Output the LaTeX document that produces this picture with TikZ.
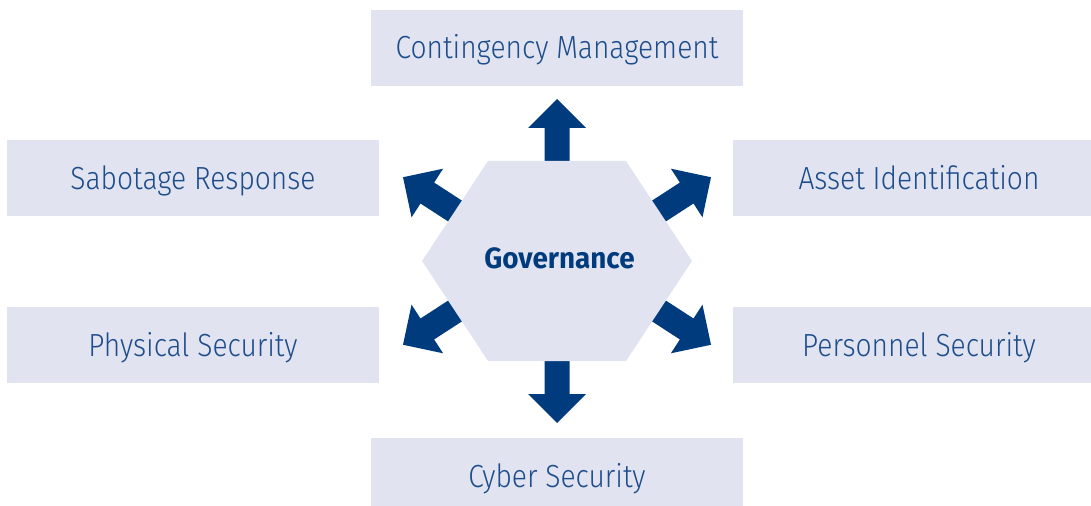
\documentclass[tikz,border=0pt]{standalone}
\usepackage{fontspec}
\newfontfamily\boxfont{Fira Sans Light}[FakeStretch=0.88]
\newfontfamily\govfont{Fira Sans}[FakeStretch=0.95]
\definecolor{arrowblue}{HTML}{003C7D}
\definecolor{textblue}{HTML}{1E4D8C}
\definecolor{boxfill}{HTML}{E1E4F0}
\tikzset{
  box/.style={fill=boxfill, draw=none, inner sep=0pt, minimum height=57pt,
    minimum width=279pt,
    font=\boxfont\fontsize{24}{28}\selectfont, text=textblue,
    text height=16.5pt, text depth=0pt},
  pics/blockarrow/.style={code={
    \fill[arrowblue] (-15,-12.5) -- (33,-12.5) -- (33,-29) -- (62,0) -- (33,29) -- (33,12.5) -- (-15,12.5) -- cycle;}}
}
\begin{document}
\begin{tikzpicture}[x=0.75pt,y=-0.75pt]
\useasboundingbox (0,0) rectangle (1091,506);
\clip (0,0) rectangle (1091,506);
% outer boxes
\node[box] (cm) at (557,48) {Contingency Management};
\node[box] (sr) at (193,178) {Sabotage Response};
\node[box] (ai) at (919,178) {Asset Identification};
\node[box] (ps) at (193,345) {Physical Security};
\node[box] (pe) at (919,345) {Personnel Security};
\node[box] (cs) at (557,476) {Cyber Security};
% arrow start points (edge midpoints of the hexagon)
\coordinate (aT) at (557,161);
\coordinate (aB) at (557,361);
\coordinate (aUR) at (659,211);
\coordinate (aLR) at (659,311);
\coordinate (aUL) at (455,211);
\coordinate (aLL) at (455,311);
\pic[rotate=90] at (aT) {blockarrow};
\pic[rotate=-90] at (aB) {blockarrow};
\pic[rotate=33] at (aUR) {blockarrow};
\pic[rotate=-33] at (aLR) {blockarrow};
\pic[rotate=147] at (aUL) {blockarrow};
\pic[rotate=213] at (aLL) {blockarrow};
% hexagon
\fill[boxfill] (422,261) -- (488,161) -- (626,161) -- (692,261) -- (626,361) -- (488,361) -- cycle;
\node[font=\govfont\bfseries\fontsize{22}{26}\selectfont, text=arrowblue, inner sep=0pt] (gov) at (559.5,258) {Governance};
\end{tikzpicture}
\end{document}
